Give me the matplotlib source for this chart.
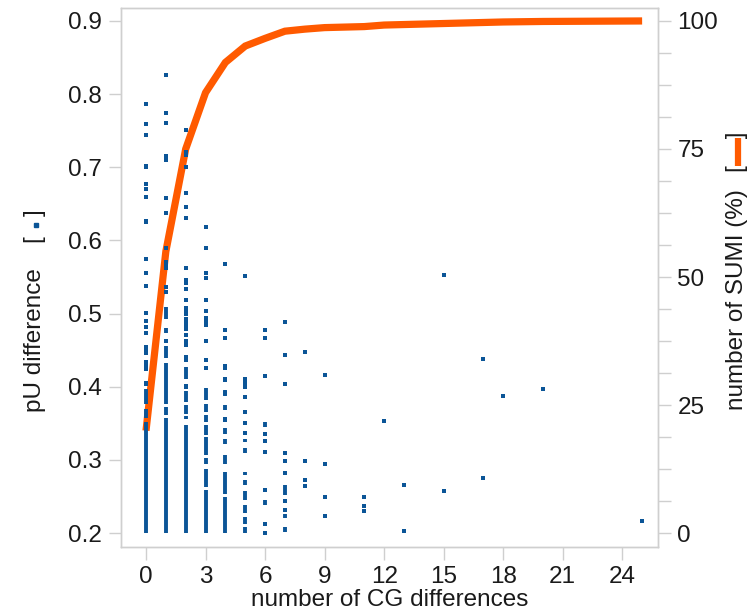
import matplotlib
matplotlib.use('Agg')
import matplotlib.pyplot as plt
from matplotlib.lines import Line2D
from matplotlib.ticker import MultipleLocator, FormatStrFormatter

plt.rcParams['font.family'] = ['Liberation Sans', 'DejaVu Sans']

BLUE = '#0b5597'
ORANGE = '#ff5a00'
GRID = '#cfcfcf'
FS = 17.5

# ---- isolated scatter points (x = number of CG differences, y = pU difference)
point_x = ([0] * 26 + [1] * 15 + [2] * 27 + [3] * 12 + [4] * 10 + [5] * 8 + [6] * 9
           + [7] * 8 + [8] * 4 + [9] * 4 + [11] * 3 + [12] + [13] * 2 + [15] * 2
           + [17] * 2 + [18] + [20] + [25])
point_y = [
    # x = 0
    0.787, 0.759, 0.744, 0.702, 0.700, 0.677, 0.670, 0.659, 0.627, 0.625, 0.574,
    0.556, 0.538, 0.501, 0.490, 0.482, 0.473, 0.455, 0.452, 0.446, 0.434, 0.431,
    0.427, 0.424, 0.404, 0.405,
    # x = 1
    0.826, 0.774, 0.760, 0.716, 0.710, 0.658, 0.637, 0.589, 0.571, 0.567, 0.563,
    0.536, 0.529, 0.463, 0.462,
    # x = 2
    0.751, 0.721, 0.717, 0.701, 0.665, 0.646, 0.631, 0.562, 0.546, 0.542, 0.534,
    0.519, 0.507, 0.503, 0.500, 0.492, 0.488, 0.485, 0.479, 0.471, 0.463, 0.460,
    0.457, 0.441, 0.437, 0.401, 0.400,
    # x = 3
    0.618, 0.589, 0.556, 0.548, 0.519, 0.504, 0.494, 0.488, 0.484, 0.463, 0.437, 0.426,
    # x = 4
    0.568, 0.477, 0.467, 0.428, 0.425, 0.410, 0.409, 0.392, 0.355, 0.356,
    # x = 5
    0.552, 0.410, 0.405, 0.400, 0.386, 0.365, 0.350, 0.337,
    # x = 6
    0.477, 0.466, 0.415, 0.336, 0.326, 0.311, 0.259, 0.212, 0.200,
    # x = 7
    0.488, 0.443, 0.404, 0.310, 0.298, 0.282, 0.244, 0.232,
    # x = 8
    0.447, 0.299, 0.272, 0.265,
    # x = 9
    0.416, 0.295, 0.250, 0.223,
    # x = 11
    0.249, 0.237, 0.230,
    # x = 12
    0.353,
    # x = 13
    0.266, 0.203,
    # x = 15
    0.553, 0.257,
    # x = 17
    0.438, 0.275,
    # x = 18
    0.387,
    # x = 20
    0.397,
    # x = 25
    0.217,
]

# ---- runs of densely packed points (drawn as continuous columns)
seg_x = [0, 0, 0,
         1, 1, 1, 1, 1, 1,
         2, 2, 2, 2, 2,
         3, 3, 3, 3, 3, 3, 3, 3,
         4, 4, 4, 4, 4, 4, 4,
         5, 5, 5, 5, 5, 5, 5, 5, 5,
         6, 6,
         7, 7, 7]
seg_lo = [0.200, 0.357, 0.376,
          0.200, 0.362, 0.377, 0.440, 0.473, 0.493,
          0.200, 0.356, 0.363, 0.379, 0.411,
          0.200, 0.263, 0.295, 0.307, 0.334, 0.352, 0.366, 0.382,
          0.200, 0.254, 0.295, 0.322, 0.336, 0.368, 0.388,
          0.200, 0.213, 0.227, 0.245, 0.266, 0.280, 0.309, 0.325, 0.398,
          0.238, 0.345,
          0.202, 0.220, 0.252]
seg_hi = [0.352, 0.369, 0.397,
          0.357, 0.372, 0.432, 0.456, 0.481, 0.509,
          0.348, 0.360, 0.375, 0.394, 0.427,
          0.259, 0.288, 0.302, 0.331, 0.348, 0.361, 0.377, 0.399,
          0.250, 0.284, 0.307, 0.329, 0.343, 0.375, 0.395,
          0.208, 0.222, 0.238, 0.257, 0.273, 0.284, 0.316, 0.329, 0.409,
          0.245, 0.352,
          0.209, 0.226, 0.266]

# ---- cumulative share of SUMI (%)
cum_x = [0, 1, 2, 3, 4, 5, 6, 7, 8, 9, 10, 11, 12, 13, 15, 17, 18, 20, 25]
cum_pct = [20.0, 55.0, 75.0, 86.0, 91.9, 95.1, 96.6, 98.0, 98.4, 98.7, 98.8,
           98.9, 99.2, 99.3, 99.5, 99.7, 99.8, 99.9, 100.0]

left_ticks = [0.2, 0.3, 0.4, 0.5, 0.6, 0.7, 0.8, 0.9]
right_ticks = [0, 25, 50, 75, 100]
x_ticks = [0, 3, 6, 9, 12, 15, 18, 21, 24]

W, H = 748, 616
fig = plt.figure(figsize=(W / 100, H / 100), dpi=100)
L, R, T, B = 121, 658, 8, 547
ax = fig.add_axes([L / W, (H - B) / H, (R - L) / W, (B - T) / H])
ax2 = ax.twinx()
ax.set_zorder(ax2.get_zorder() + 1)
ax.patch.set_visible(False)

y0, y1 = 0.181, 0.9177
ax.set_ylim(y0, y1)
ax2.set_ylim((y0 - 0.2) / 0.007, (y1 - 0.2) / 0.007)
ax.set_xlim(-1.26, 25.8)

ax2.plot(cum_x, cum_pct, color=ORANGE, lw=5.2, solid_joinstyle='miter',
         solid_capstyle='butt', zorder=3)
ax.vlines(seg_x, seg_lo, seg_hi, colors=BLUE, lw=2.8, zorder=4)
ax.scatter(point_x, point_y, s=9, marker='s', color=BLUE, linewidths=0, zorder=5)

ax.set_xticks(x_ticks)
ax.set_yticks(left_ticks)
ax.yaxis.set_major_formatter(FormatStrFormatter('%.1f'))
ax2.set_yticks(right_ticks)
ax2.yaxis.set_minor_locator(MultipleLocator(6.25))

for a in (ax, ax2):
    for s in a.spines.values():
        s.set_color(GRID)
        s.set_linewidth(1.0)
    a.tick_params(which='both', direction='out', length=9, width=1.0,
                  color=GRID, labelcolor='#1a1a1a', labelsize=FS, pad=5)
ax2.tick_params(which='minor', length=9)

fig.text(390 / W, 1 - 600 / H, 'number of CG differences', ha='center',
         va='center', fontsize=FS, color='#1a1a1a')

# left axis label with embedded marker
lx = 35 / W
fig.text(lx, 1 - 340 / H, 'pU difference', rotation=90, ha='center',
         va='center', fontsize=FS, color='#1a1a1a')
fig.text(lx, 1 - 226 / H, '[   ]', rotation=90, ha='center', va='center',
         fontsize=FS, color='#1a1a1a')
fig.add_artist(Line2D([lx + 0.5 / W], [1 - 225 / H], marker='s', markersize=2.6,
                      color=BLUE, transform=fig.transFigure))

# right axis label with embedded line
rx = 737 / W
fig.text(rx, 1 - 300 / H, 'number of SUMI (%)', rotation=90, ha='center',
         va='center', fontsize=FS, color='#1a1a1a')
fig.text(rx, 1 - 152 / H, '[    ]', rotation=90, ha='center', va='center',
         fontsize=FS, color='#1a1a1a')
fig.add_artist(Line2D([rx + 0.5 / W, rx + 0.5 / W], [1 - 138 / H, 1 - 166 / H],
                      color=ORANGE, lw=4.5, solid_capstyle='butt',
                      transform=fig.transFigure))

fig.savefig('out.png', dpi=100)
